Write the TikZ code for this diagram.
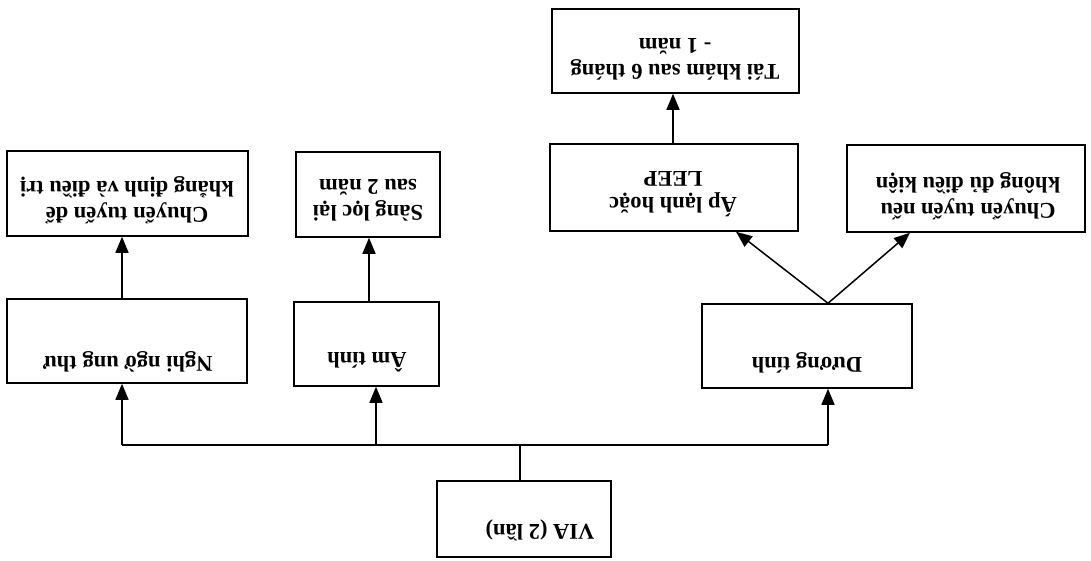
\documentclass[tikz,border=0pt]{standalone}
\usepackage{fontspec}
\setmainfont{Liberation Serif}
\usetikzlibrary{arrows.meta}
\begin{document}
\begin{tikzpicture}[x=1pt,y=-1pt,
  box/.style={draw,line width=1.5pt,inner sep=0pt,rectangle},
  lbl/.style={rotate=180,align=center,inner sep=0pt,font=\fontsize{22.5}{26}\selectfont\bfseries},
  conn/.style={line width=1.5pt},
  arr/.style={line width=1.5pt,-{Triangle[length=16pt,width=13pt]}}]
\useasboundingbox (0,0) rectangle (1091,560);
% boxes
\node[box,minimum width=174pt,minimum height=76pt] (via) at (524,519) {};
\node[box,minimum width=240pt,minimum height=84pt] (nghi) at (127,341) {};
\node[box,minimum width=145pt,minimum height=84pt] (am) at (366.5,344) {};
\node[box,minimum width=210pt,minimum height=84pt] (duong) at (807,346) {};
\node[box,minimum width=241pt,minimum height=85pt] (c1) at (127.5,193.5) {};
\node[box,minimum width=144pt,minimum height=85pt] (sang) at (368,194.5) {};
\node[box,minimum width=248pt,minimum height=87pt] (ap) at (674,187.5) {};
\node[box,minimum width=238pt,minimum height=87pt] (c2) at (966,188.5) {};
\node[box,minimum width=247pt,minimum height=84pt] (tai) at (675.5,51) {};
% labels
\node[lbl] (tvia) at (540,530) {VIA (2 lần)};
\node[lbl] (tnghi) at (128,362) {Nghi ngờ ung thư};
\node[lbl] (tam) at (367,362) {Âm tính};
\node[lbl] (tduong) at (807,363) {Dương tính};
\node[lbl] (tc1) at (127,200) {Chuyển tuyến để\\khẳng định và điều trị};
\node[lbl] (tsang) at (368,200) {Sàng lọc lại\\sau 2 năm};
\node[lbl] (tap) at (673,194) {Áp lạnh hoặc\\LEEP};
\node[lbl] (tc2) at (968,196) {Chuyển tuyến nếu\\không đủ điều kiện};
\node[lbl] (ttai) at (675,59) {Tái khám sau 6 tháng\\- 1 năm};
% connector points
\coordinate (j) at (520,445);
\coordinate (jl) at (122,445);
\coordinate (jm) at (376,445);
\coordinate (jr) at (828,445);
\coordinate (xs) at (369,0);
\coordinate (xa) at (736,0);
\coordinate (xc) at (910,0);
\coordinate (xt) at (673,0);
% connectors
\draw[conn] (via.north -| j) -- (j);
\draw[conn] (jl) -- (jr);
\draw[arr] (jl) -- (jl |- nghi.south);
\draw[arr] (jm) -- (jm |- am.south);
\draw[arr] (jr) -- (jr |- duong.south);
\draw[arr] (jl |- nghi.north) -- (jl |- c1.south);
\draw[arr] (xs |- am.north) -- (xs |- sang.south);
\draw[arr] (jr |- duong.north) -- (xa |- ap.south);
\draw[arr] (jr |- duong.north) -- (xc |- c2.south);
\draw[arr] (xt |- ap.north) -- (xt |- tai.south);
\end{tikzpicture}
\end{document}
